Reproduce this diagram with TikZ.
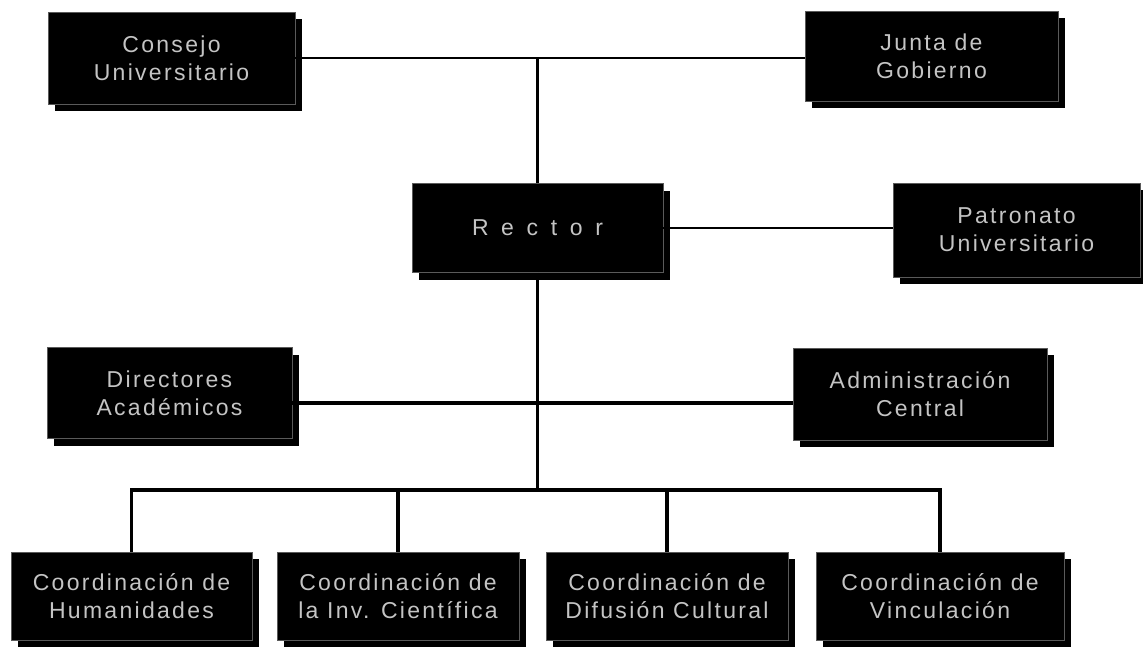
\documentclass[tikz,border=0pt]{standalone}
\usepackage{fontspec}
\usepackage{tikz}
\usetikzlibrary{shadows}

\newfontfamily\orgfont[LetterSpace=10]{Liberation Sans}
\newfontfamily\rectorfont[LetterSpace=55]{Liberation Sans}
\definecolor{boxtext}{RGB}{196,196,196}
\definecolor{boxrim}{RGB}{90,90,90}

\tikzset{
    unit/.style={rectangle, fill=black, draw=boxrim, line width=0.8pt,
        inner sep=0pt, align=center, text=boxtext,
        font=\orgfont\fontsize{23}{28}\selectfont,
        drop shadow={shadow xshift=7pt, shadow yshift=-7pt, fill=black, opacity=1}},
    thinlink/.style={line width=2pt},
    thicklink/.style={line width=3.6pt}
}

\begin{document}
\begin{tikzpicture}[x=1pt,y=-1pt]

    \useasboundingbox (0,0) rectangle (1143,649);

    % Top level boards
    \node[unit, minimum width=247pt, minimum height=92pt] (consejo) at (171.5,58) {Consejo\\Universitario};
    \node[unit, minimum width=253pt, minimum height=90pt] (junta) at (931.5,56) {Junta de\\Gobierno};

    % Rector and patronato
    \node[unit, minimum width=251pt, minimum height=89pt, font=\rectorfont\fontsize{23}{28}\selectfont] (rector) at (537.5,228) {Rector};
    \node[unit, minimum width=247pt, minimum height=94pt] (patronato) at (1016.5,230) {Patronato\\Universitario};

    % Staff level
    \node[unit, minimum width=245pt, minimum height=91pt] (directores) at (169.5,393) {Directores\\Académicos};
    \node[unit, minimum width=254pt, minimum height=92pt] (admin) at (920,394) {Administración\\Central};

    % Coordinations
    \node[unit, minimum width=241pt, minimum height=88pt] (humanidades) at (131.5,596) {Coordinación de\\Humanidades};
    \node[unit, minimum width=242pt, minimum height=88pt] (investigacion) at (398,596) {Coordinación de\\la Inv. Científica};
    \node[unit, minimum width=242pt, minimum height=88pt] (difusion) at (667,596) {Coordinación de\\Difusión Cultural};
    \node[unit, minimum width=248pt, minimum height=88pt] (vinculacion) at (940,596) {Coordinación de\\Vinculación};

    % Junction points
    \coordinate (mid) at (540,403);
    \coordinate (bus) at (540,490);

    % Draw the top connections
    \draw[thinlink] (consejo.east) -- (junta.west |- consejo.east);
    \draw[thicklink] (rector.north) -- (rector.north |- consejo.east);
    \draw[thinlink] (rector.east) -- (patronato.west |- rector.east);

    % Draw the staff line and the trunk
    \draw[thicklink] (directores.east |- mid) -- (admin.west |- mid);
    \draw[thicklink] (rector.south) -- (rector.south |- bus);

    % Draw the bus to the coordinations
    \draw[thicklink] (humanidades.north) |- (bus) -| (vinculacion.north);
    \draw[thicklink] (investigacion.north) -- (investigacion.north |- bus);
    \draw[thicklink] (difusion.north) -- (difusion.north |- bus);
\end{tikzpicture}
\end{document}
